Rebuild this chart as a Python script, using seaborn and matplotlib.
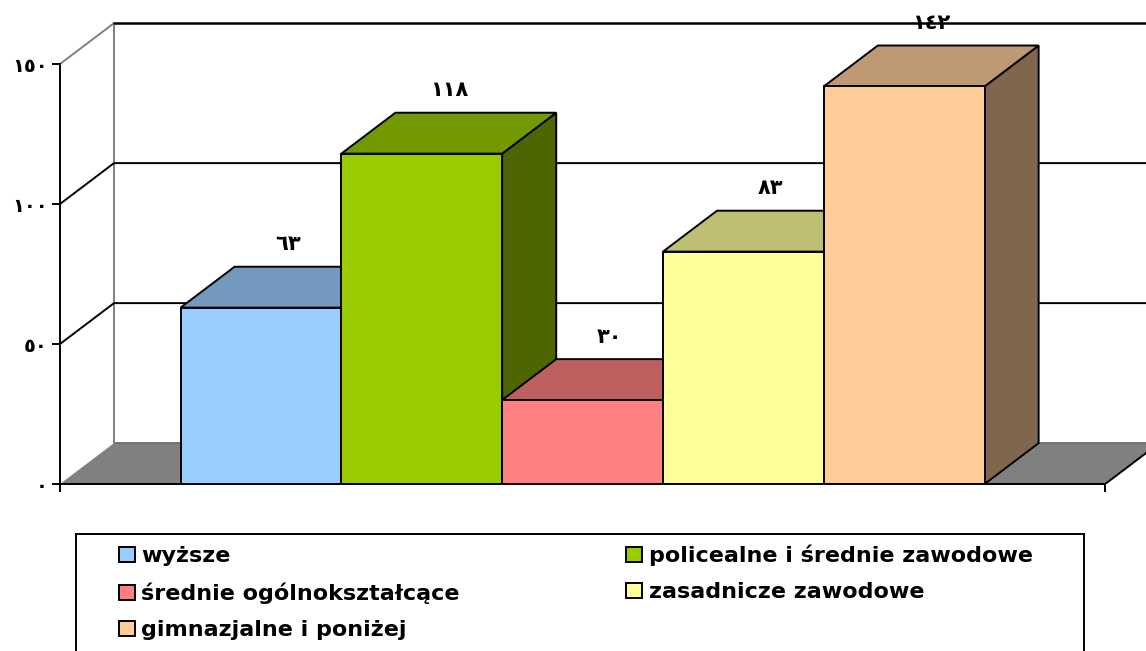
import matplotlib.pyplot as plt
import matplotlib.patches as mpatches
import matplotlib.colors as mcolors
import seaborn as sns

# Data
categories = ['wyższe', 'policealne i średnie zawodowe', 'średnie ogólnokształcące',
              'zasadnicze zawodowe', 'gimnazjalne i poniżej']
values = [63, 118, 30, 83, 142]
front_colors = ['#99CCFF', '#99CC00', '#FF8080', '#FFFF99', '#FFCC99']
y_ticks = [0, 50, 100, 150]

ARABIC = str.maketrans('0123456789', '٠١٢٣٤٥٦٧٨٩')


def shade(c, f):
    r, g, b = mcolors.to_rgb(c)
    return (r * f, g * f, b * f)


sns.set_style('white')
plt.rcParams['font.family'] = ['DejaVu Sans']
plt.rcParams['text.color'] = 'black'
plt.rcParams['xtick.color'] = 'black'
plt.rcParams['ytick.color'] = 'black'

fig = plt.figure(figsize=(11.46, 6.51), dpi=100)
ax = fig.add_axes([60 / 1146, 167 / 651, 1086 / 1146, 466 / 651])

sns.barplot(x=categories, y=values, hue=categories, palette=front_colors, width=1.0,
            saturation=1, edgecolor='black', linewidth=1.4, legend=False, ax=ax)

# 3D depth offset (data units) and floor extents
dx, dy = 0.336, 14.6
x0, x1 = -1.25, 5.25
ax.set_xlim(x0, x0 + 1086 / 160.8)
ax.set_ylim(0, 466 / 2.8)
xr = ax.get_xlim()[1] + 0.5

# floor
ax.add_patch(mpatches.Polygon([(x0, 0), (x1, 0), (x1 + dx, dy), (x0 + dx, dy)],
                              closed=True, facecolor='#808080', edgecolor='none', zorder=1))
ax.plot([x0 + dx, xr], [dy, dy], color='#666666', lw=1.2, zorder=1.5)
ax.plot([x1, x1 + dx], [0, dy], color='black', lw=1.4, zorder=1.5)

# walls and gridlines
ax.plot([x0 + dx, x0 + dx], [dy, 150 + dy], color='#808080', lw=1.4, zorder=1.5)
ax.plot([x0, x0 + dx], [150, 150 + dy], color='#808080', lw=1.4, zorder=1.5)
ax.plot([x0 + dx, xr], [150 + dy, 150 + dy], color='black', lw=1.8, zorder=1.5)
for v in [50, 100]:
    ax.plot([x0, x0 + dx, xr], [v, v + dy, v + dy], color='black', lw=1.4, zorder=1.5)

# 3D faces for each bar
bars = sorted(ax.patches[:len(values)], key=lambda p: p.get_x())
for i, (p, v, c) in enumerate(zip(bars, values, front_colors)):
    left, w, h = p.get_x(), p.get_width(), p.get_height()
    p.set_zorder(11 + 2 * i)
    top = mpatches.Polygon([(left, h), (left + w, h), (left + w + dx, h + dy), (left + dx, h + dy)],
                           closed=True, facecolor=shade(c, 0.75), edgecolor='black', lw=1.4,
                           zorder=10 + 2 * i)
    side = mpatches.Polygon([(left + w, 0), (left + w + dx, dy), (left + w + dx, h + dy), (left + w, h)],
                            closed=True, facecolor=shade(c, 0.5), edgecolor='black', lw=1.4,
                            zorder=10 + 2 * i)
    ax.add_patch(side)
    ax.add_patch(top)
    ax.text(left + w / 2 + dx / 2, h + dy + 8, str(v).translate(ARABIC), ha='center', va='center',
            fontsize=15, fontweight='bold', zorder=30)

# axes
for s in ['top', 'right']:
    ax.spines[s].set_visible(False)
ax.spines['left'].set_bounds(0, 150)
ax.spines['bottom'].set_bounds(x0, x1)
for s in ['left', 'bottom']:
    ax.spines[s].set_linewidth(1.4)
    ax.spines[s].set_color('black')
    ax.spines[s].set_zorder(40)
ax.set_yticks(y_ticks)
ax.set_yticklabels([str(t).translate(ARABIC) for t in y_ticks], fontsize=14, fontweight='bold')
ax.set_xticks([x0, x1])
ax.set_xticklabels(['', ''])
ax.tick_params(axis='y', left=True, direction='out', length=6, width=1.4, pad=3)
ax.tick_params(axis='x', bottom=True, direction='out', length=6, width=1.4)
ax.set_xlabel('')
ax.set_ylabel('')

# legend (row-wise order)
order = [0, 2, 4, 1, 3]
handles = [mpatches.Patch(facecolor=front_colors[k], edgecolor='black', linewidth=1.4,
                          label=categories[k]) for k in order]
fig.legend(handles=handles, loc='upper left', bbox_to_anchor=(119 / 1146, 1 - 545 / 651),
           ncol=2, frameon=False, prop={'weight': 'bold', 'size': 16},
           handlelength=0.7, handleheight=0.65, handletextpad=0.3,
           columnspacing=7.5, labelspacing=0.72, borderpad=0, borderaxespad=0)
fig.add_artist(mpatches.Rectangle((76 / 1146, -0.1), (1084 - 76) / 1146, 0.1 + 1 - 534 / 651,
                                  transform=fig.transFigure, facecolor='none',
                                  edgecolor='black', lw=1.4))

fig.savefig('out.png', dpi=100)
